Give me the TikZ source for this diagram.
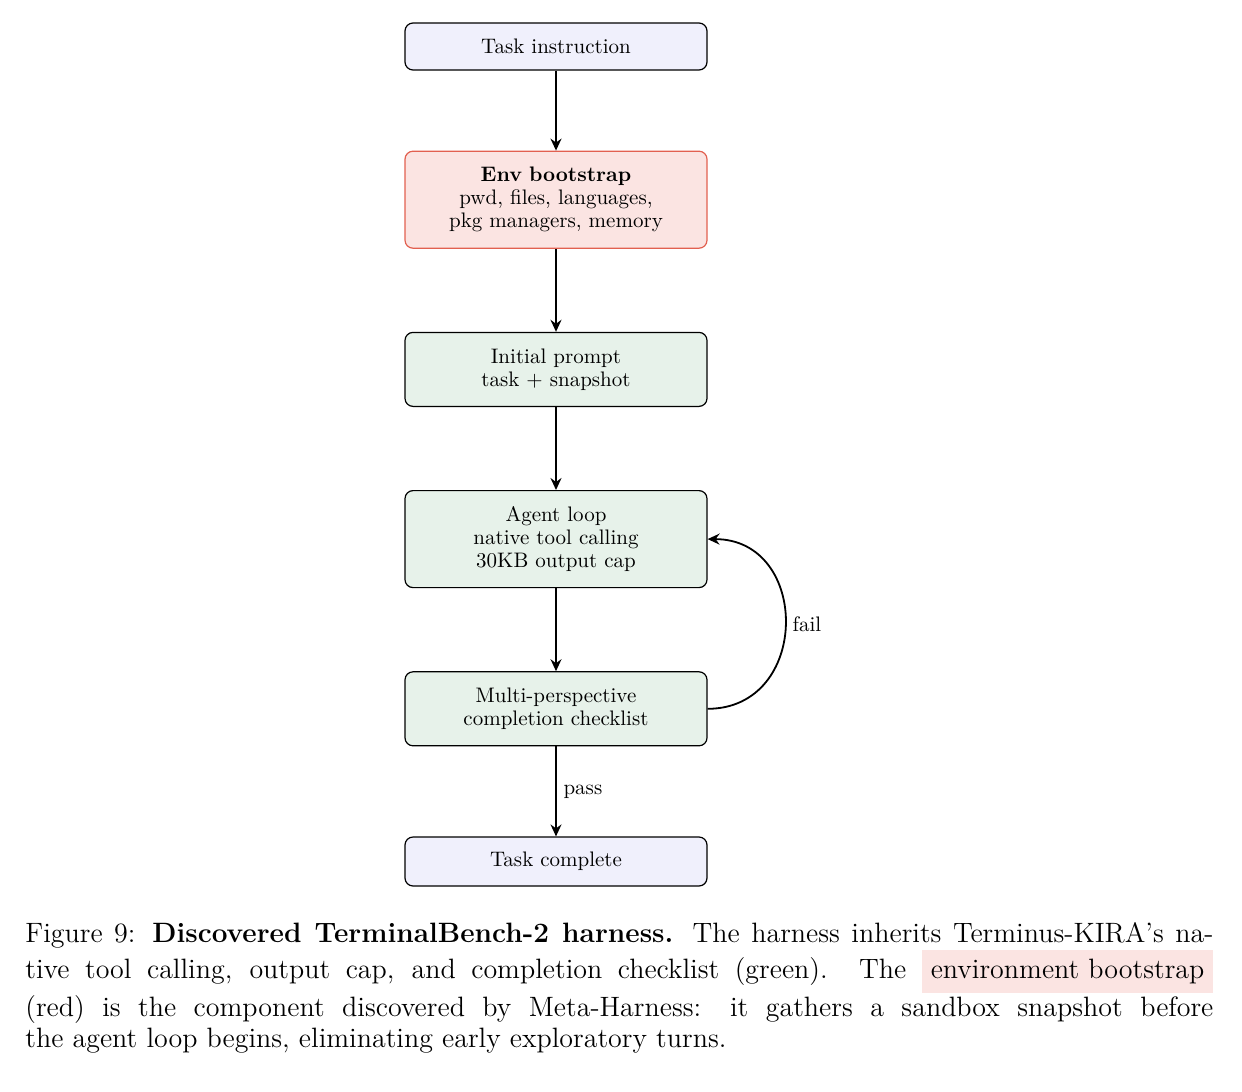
\documentclass[tikz,border=0pt]{standalone}
\usepackage{amsmath}
\usepackage{xcolor}
\usetikzlibrary{positioning, arrows.meta}

\definecolor{endfill}{RGB}{240,240,252}
\definecolor{envfill}{RGB}{251,228,226}
\definecolor{envdraw}{RGB}{226,96,80}
\definecolor{keepfill}{RGB}{231,242,234}

\begin{document}
\begin{tikzpicture}[>={Stealth[length=6pt, width=5.5pt, inset=2pt]}, node distance=41.5pt,
    font=\fontsize{10.5}{11.5}\selectfont,
    box/.style={draw, rounded corners=4pt, line width=0.6pt, minimum width=151pt,
        text width=143pt, align=center, inner ysep=2pt},
    endbox/.style={box, fill=endfill, minimum height=23.5pt},
    envbox/.style={box, fill=envfill, draw=envdraw, minimum height=48.5pt},
    keepbox/.style={box, fill=keepfill},
    flow/.style={->, line width=0.9pt}]
    \useasboundingbox (0,0) rectangle (621pt,-546pt);

    \node[endbox] (instr) at (278pt,-23.25pt) {Task instruction};
    \node[envbox] (env) [below=40pt of instr] {\textbf{Env bootstrap}\\pwd, files, languages,\\pkg managers, memory};
    \node[keepbox, minimum height=37pt] (init) [below=of env] {Initial prompt\\task + snapshot};
    \node[keepbox, minimum height=48.5pt] (agent) [below=of init] {Agent loop\\native tool calling\\30KB output cap};
    \node[keepbox, minimum height=37pt] (check) [below=of agent] {Multi-perspective\\completion checklist};
    \node[endbox, minimum height=24.5pt] (done) [below=45pt of check] {Task complete};

    \draw[flow] (instr) -- (env);
    \draw[flow] (env) -- (init);
    \draw[flow] (init) -- (agent);
    \draw[flow] (agent) -- (check);
    \draw[flow] (check) -- node[right] {pass} (done);
    \draw[flow] (check.east) to[out=0, in=0, looseness=1.56] node[right] {fail} (agent.east);

    % caption
    \node[anchor=north west, inner sep=0pt, text width=594pt, align=justify,
        font=\fontsize{14}{15.5}\selectfont] (cap) at (12.5pt,-461pt)
        {\setlength{\fboxsep}{4.5pt}Figure 9: \textbf{Discovered TerminalBench-2 harness.} The harness inherits Terminus-KIRA's na-\linebreak
        tive tool calling, output cap, and completion checklist (green). The \colorbox{envfill}{environment bootstrap}\linebreak
        (red) is the component discovered by Meta-Harness: it gathers a sandbox snapshot before\linebreak
        the agent loop begins, eliminating early exploratory turns.};
\end{tikzpicture}
\end{document}
